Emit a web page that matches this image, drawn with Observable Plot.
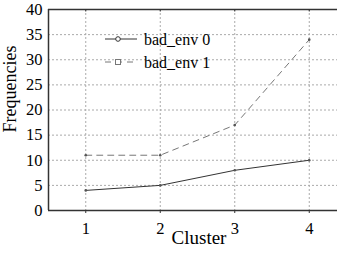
<!DOCTYPE html>
<html><head><meta charset="utf-8">
<script src="https://cdn.jsdelivr.net/npm/d3@7"></script>
<script src="https://cdn.jsdelivr.net/npm/@observablehq/plot@0.6"></script>
<style>body{margin:0;background:#fff} svg text{font-family:"Liberation Serif","Times New Roman",serif !important; fill:#000}</style>
</head><body><div id="chart"></div>
<script>
const clusters = [1, 2, 3, 4];
const badEnv0 = [4, 5, 8, 10];
const badEnv1 = [11, 11, 17, 34];
const seriesNames = ["bad_env 0", "bad_env 1"];
const yTicks = [0, 5, 10, 15, 20, 25, 30, 35, 40];

const data = [];
clusters.forEach((c, i) => {
  data.push({cluster: c, value: badEnv0[i], series: seriesNames[0]});
  data.push({cluster: c, value: badEnv1[i], series: seriesNames[1]});
});
const s0 = data.filter(d => d.series === seriesNames[0]);
const s1 = data.filter(d => d.series === seriesNames[1]);

const svg = Plot.plot({
  width: 337, height: 253,
  marginLeft: 48, marginTop: 9, marginBottom: 43, marginRight: -9,
  style: {background: "#fff", color: "#222"},
  x: {domain: [0.5, 4.5]},
  y: {domain: [0, 40]},
  marks: [
    Plot.gridX(clusters, {stroke: "#aaa", strokeOpacity: 1, strokeDasharray: "2,2", strokeWidth: 1}),
    Plot.gridY(yTicks, {stroke: "#aaa", strokeOpacity: 1, strokeDasharray: "2,2", strokeWidth: 1}),
    Plot.ruleY([0], {stroke: "#333", strokeWidth: 1.5}),
    Plot.ruleY([40], {stroke: "#333", strokeWidth: 1.5}),
    Plot.ruleX([0.5], {stroke: "#333", strokeWidth: 1.5}),
    Plot.line(s1, {x: "cluster", y: "value", stroke: "#777", strokeWidth: 1, strokeDasharray: "6,5"}),
    Plot.line(s0, {x: "cluster", y: "value", stroke: "#333", strokeWidth: 1}),
    Plot.dot(data, {x: "cluster", y: "value", r: 1.3, fill: "#555", stroke: "none"}),
    Plot.axisY({ticks: yTicks, tickSize: 0, tickPadding: 6, fontSize: 16.5, label: null, tickFormat: d3.format("d")}),
    Plot.axisX({ticks: clusters, tickSize: 3, tickPadding: 9, fontSize: 16.5, label: null, stroke: "#333", tickFormat: d3.format("d")}),
    Plot.ruleX(clusters, {y1: 40, y2: 39.5, stroke: "#333"})
  ]
});
document.getElementById("chart").appendChild(svg);

const g = d3.select(svg).append("g").attr("fill", "#000").attr("text-anchor", "start");
g.append("text").attr("x", 199).attr("y", 244).attr("text-anchor", "middle")
  .attr("font-size", 19).text("Cluster");
g.append("text").attr("transform", "translate(16,89) rotate(-90)").attr("text-anchor", "middle")
  .attr("font-size", 18).text("Frequencies");

// legend
const leg = [
  {name: seriesNames[0], y: 39, stroke: "#333", dash: null, shape: "circle"},
  {name: seriesNames[1], y: 62, stroke: "#777", dash: "6,5", shape: "square"}
];
leg.forEach(l => {
  g.append("line").attr("x1", 105).attr("x2", 137).attr("y1", l.y).attr("y2", l.y)
    .attr("stroke", l.stroke).attr("stroke-dasharray", l.dash);
  if (l.shape === "circle") g.append("circle").attr("cx", 118).attr("cy", l.y).attr("r", 2.3)
    .attr("fill", "#fff").attr("stroke", l.stroke);
  else g.append("rect").attr("x", 115.5).attr("y", l.y - 2.5).attr("width", 5).attr("height", 5)
    .attr("fill", "#fff").attr("stroke", l.stroke);
  g.append("text").attr("x", 144).attr("y", l.y + 6).attr("font-size", 16).text(l.name);
});
</script></body></html>
